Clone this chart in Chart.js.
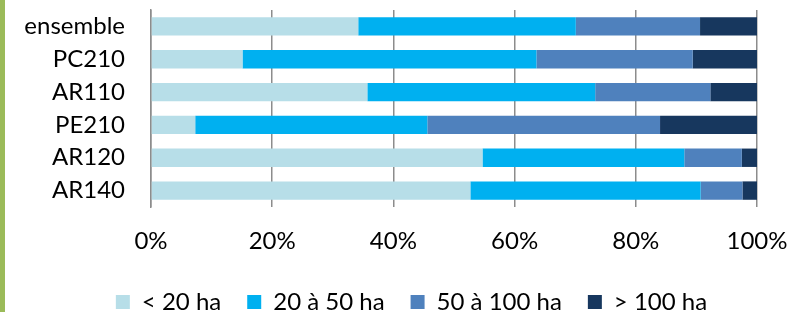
<!DOCTYPE html>
<html>
<head>
<meta charset="utf-8">
<script src="https://cdn.jsdelivr.net/npm/chart.js@4"></script>
<style>
  body { margin: 0; width: 792px; height: 312px; overflow: hidden; background: #fff; position: relative; }
  #wrap { position: absolute; left: 0; top: 0; width: 792px; height: 324px; }
  #leftbar { position: absolute; left: 0; top: 0; width: 5px; height: 312px; background: #9BBB59; }
</style>
</head>
<body>
<div id="wrap"><canvas id="chart"></canvas></div>
<div id="leftbar"></div>
<script>
// categories and shares (%) per farm size class
const categories = ["ensemble", "PC210", "AR110", "PE210", "AR120", "AR140"];
const lessThan20 = [34.2, 15.1, 35.7, 7.3, 54.7, 52.7];
const from20to50 = [35.9, 48.5, 37.6, 38.3, 33.3, 38.0];
const from50to100 = [20.5, 25.8, 19.0, 38.4, 9.5, 6.9];
const moreThan100 = [9.4, 10.6, 7.7, 16.0, 2.5, 2.4];
const seriesNames = ["< 20 ha", "20 à 50 ha", "50 à 100 ha", "> 100 ha"];
const tickValues = [0, 20, 40, 60, 80, 100];

const colors = ["#B7DEE8", "#00B0F0", "#4F81BD", "#17375E"];
const font = { family: "Lato", size: 24 };

Chart.defaults.font.family = "Lato";
Chart.defaults.color = "#000";

// legend sits a bit right of the middle in the original
const legendShift = {
  id: "legendShift",
  afterLayout(chart) {
    chart.legend.left += 33;
    chart.legend.right += 33;
  }
};

const ctx = document.getElementById("chart").getContext("2d");
const chart = new Chart(ctx, {
  type: "bar",
  data: {
    labels: categories,
    datasets: [lessThan20, from20to50, from50to100, moreThan100].map((d, i) => ({
      label: seriesNames[i],
      data: d,
      backgroundColor: colors[i],
      borderWidth: 0,
      barPercentage: 0.56,
      categoryPercentage: 1
    }))
  },
  options: {
    indexAxis: "y",
    responsive: true,
    maintainAspectRatio: false,
    animation: false,
    layout: { padding: { top: 10, right: 35, left: 0, bottom: 0 } },
    scales: {
      x: {
        stacked: true,
        min: 0,
        max: 100,
        afterBuildTicks: (scale) => { scale.ticks = tickValues.map(v => ({ value: v })); },
        afterFit: (scale) => { scale.height = 57; scale.paddingLeft = 0; scale.paddingRight = 0; },
        ticks: { font: font, padding: 20, callback: (v) => v + "%", maxRotation: 0 },
        grid: { color: "#8c8c8c", lineWidth: 1.5, drawTicks: false },
        border: { display: false }
      },
      y: {
        stacked: true,
        afterFit: (scale) => { scale.width = 151; scale.paddingTop = 0; scale.paddingBottom = 0; },
        ticks: { font: font, padding: 26, autoSkip: false },
        grid: { display: false, drawTicks: false },
        border: { display: true, color: "#8c8c8c", width: 1.5 }
      }
    },
    plugins: {
      legend: {
        position: "bottom",
        labels: { font: font, boxWidth: 14, boxHeight: 14, padding: 26 }
      },
      tooltip: { enabled: false }
    }
  },
  plugins: [legendShift]
});
</script>
</body>
</html>
